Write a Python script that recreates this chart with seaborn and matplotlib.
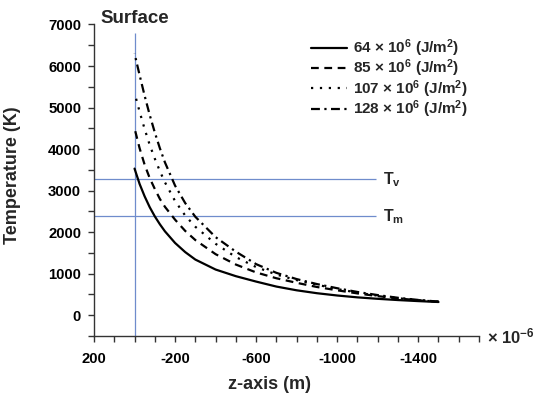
import pandas as pd
import matplotlib
matplotlib.use("Agg")
import matplotlib.pyplot as plt
from matplotlib.ticker import MultipleLocator
import seaborn as sns

# depth below the surface (x 10^-6 m) and temperature (K)
z = [0, -25, -50, -75, -100, -125, -150, -200, -250, -300, -400, -500,
     -600, -700, -800, -900, -1000, -1100, -1200, -1300, -1400, -1500]
t_64 = [3530, 3160, 2860, 2600, 2380, 2190, 2020, 1740, 1520, 1340, 1100, 940,
        810, 690, 600, 530, 475, 430, 395, 365, 340, 318]
t_85 = [4500, 4020, 3620, 3300, 3040, 2800, 2610, 2300, 2030, 1810, 1470, 1220,
        1030, 890, 780, 680, 600, 525, 460, 405, 360, 322]
t_107 = [5350, 4900, 4480, 4100, 3770, 3470, 3200, 2750, 2400, 2130, 1720, 1400,
         1160, 980, 845, 735, 630, 545, 470, 410, 360, 325]
t_128 = [6300, 5780, 5280, 4820, 4400, 4020, 3680, 3120, 2700, 2370, 1880, 1530,
         1230, 1020, 870, 750, 650, 560, 485, 420, 368, 328]

labels = [r"64 × 10$^{6}$ (J/m$^{2}$)", r"85 × 10$^{6}$ (J/m$^{2}$)",
          r"107 × 10$^{6}$ (J/m$^{2}$)", r"128 × 10$^{6}$ (J/m$^{2}$)"]
x_ticks = [200, -200, -600, -1000, -1400]

surface_z = 0
surface_top = 6800
t_vap = 3270
t_melt = 2380
ref_line_end = -1190

df = pd.concat([
    pd.DataFrame({"z": z, "T": t, "fluence": lab})
    for t, lab in zip([t_64, t_85, t_107, t_128], labels)
])

sns.set_style("ticks")
plt.rcParams["font.family"] = ["Liberation Sans", "DejaVu Sans"]
plt.rcParams["font.weight"] = "bold"
plt.rcParams["axes.unicode_minus"] = False
plt.rcParams["mathtext.fontset"] = "custom"
plt.rcParams["mathtext.rm"] = "Liberation Sans:bold"
plt.rcParams["mathtext.it"] = "Liberation Sans:bold"
plt.rcParams["mathtext.bf"] = "Liberation Sans:bold"

fig = plt.figure(figsize=(5.36, 3.95), dpi=100)
ax = fig.add_axes([0.1754, 0.1494, 0.7183, 0.7886])

ref_blue = "#6f8ccc"
ax.vlines(surface_z, -500, surface_top, color=ref_blue, lw=0.9)
ax.hlines([t_vap, t_melt], 200, ref_line_end, color=ref_blue, lw=0.9)

dash_map = {labels[0]: "", labels[1]: (3.5, 2.5), labels[2]: (1, 3),
            labels[3]: (4, 2, 1, 2)}
sns.lineplot(data=df, x="z", y="T", style="fluence", dashes=dash_map,
             color="black", linewidth=1.6, ax=ax, legend=True)

ax.set_xlim(200, -1700)
ax.set_ylim(-500, 7000)
ax.set_xticks(x_ticks)
ax.xaxis.set_minor_locator(MultipleLocator(100))
ax.set_yticks(range(0, 7001, 1000))
ax.yaxis.set_minor_locator(MultipleLocator(500))
ax.tick_params(axis="both", which="both", direction="out", length=4.3,
               width=1, colors="#333333", labelsize=10.7, labelcolor="black")
ax.tick_params(axis="x", pad=7)
ax.tick_params(axis="y", pad=5)
for lab in ax.get_xticklabels() + ax.get_yticklabels():
    lab.set_fontweight("bold")

for side in ["top", "right"]:
    ax.spines[side].set_visible(False)
for side in ["left", "bottom"]:
    ax.spines[side].set_color("#333333")
    ax.spines[side].set_linewidth(1)

ax.set_xlabel("z-axis (m)", fontsize=13, fontweight="bold")
ax.set_ylabel("Temperature (K)", fontsize=13, fontweight="bold")
ax.xaxis.set_label_coords(0.457, -0.128)
ax.yaxis.set_label_coords(-0.19, 0.517)

handles, labs = ax.get_legend_handles_labels()
ax.legend(handles, labs, frameon=False, loc="upper left",
          bbox_to_anchor=(0.533, 0.997), fontsize=11, handlelength=2.3,
          handletextpad=0.45, labelspacing=-0.09, borderpad=0.3)

ax.text(170, 7140, "Surface", fontsize=13.5, fontweight="bold",
        va="center", ha="left", clip_on=False)
ax.text(-1225, t_vap, r"T$_{\mathrm{v}}$", fontsize=11.5, va="center", ha="left")
ax.text(-1225, t_melt, r"T$_{\mathrm{m}}$", fontsize=11.5, va="center", ha="left")
ax.text(1.022, 0.0, r"× 10$^{-6}$", transform=ax.transAxes, fontsize=12,
        va="center", ha="left")

fig.savefig("out.png", dpi=100)
